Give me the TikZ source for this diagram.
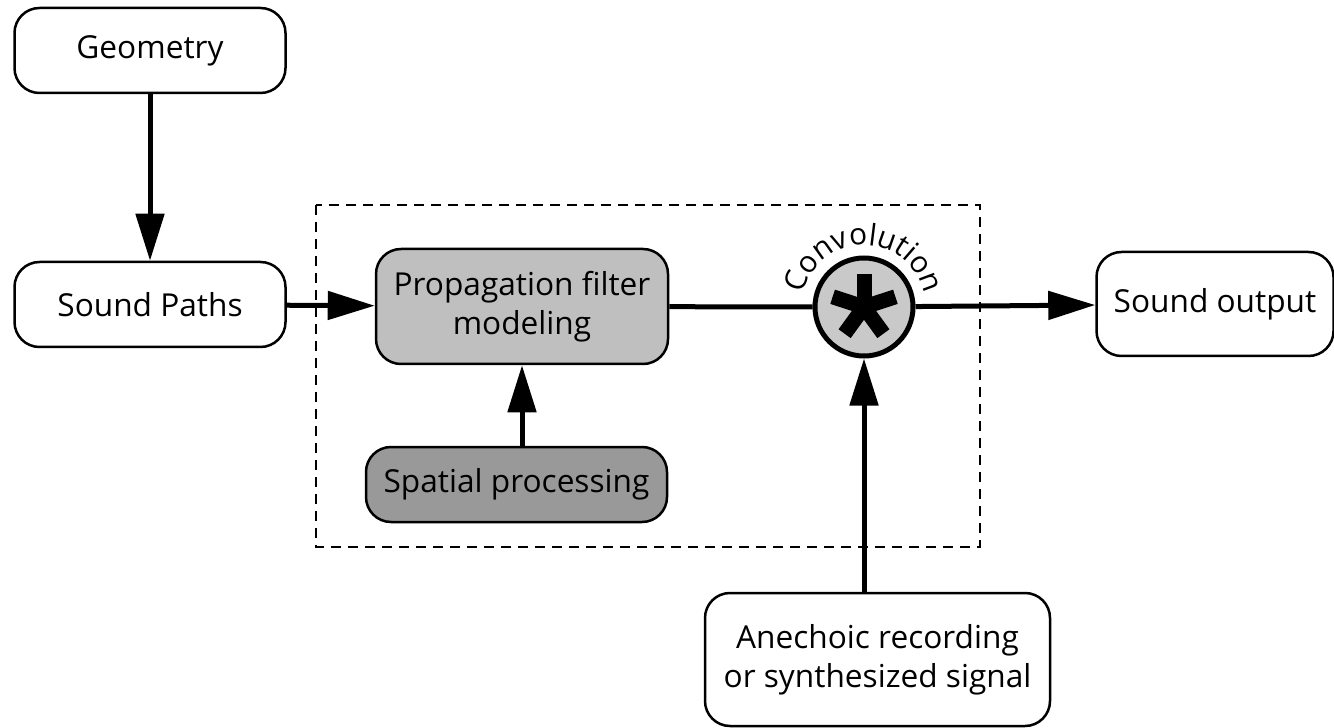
\documentclass[tikz,border=0pt]{standalone}
\usepackage{fontspec}
\setmainfont{Open Sans}
\usepackage{tikz}
\usetikzlibrary{arrows.meta, positioning, calc, decorations.text}
\tikzset{
  flowbox/.style={
    draw, rounded corners=0.5cm, line width=0.05cm, align=center,
    font=\fontsize{18}{22}\selectfont, fill=white,
    minimum width=5.42cm, minimum height=1.7cm, inner sep=0pt
  },
  flowarrow/.style={
    -{Triangle[length=0.94cm, width=0.56cm]}, line width=0.1cm
  },
  flowline/.style={line width=0.1cm},
  groupframe/.style={
    draw, line width=0.04cm, dash pattern=on 0.2cm off 0.14cm
  },
}

\begin{document}
\begin{tikzpicture}
  \useasboundingbox (0,0) rectangle (26.68,-14.56);

  % Group frame
  \draw[groupframe] (6.32,-4.10) rectangle (19.60,-10.94);

  % Input boxes
  \node[flowbox] (geom) at (3.0,-1.01) {Geometry};
  \node[flowbox] (paths) at (3.0,-6.09) {Sound Paths};

  % Filter stages
  \node[flowbox, fill=gray!50, minimum width=5.84cm, minimum height=2.3cm]
    (prop) at (10.44,-6.13) {Propagation filter\\modeling};
  \node[flowbox, fill=gray!80, minimum width=6.02cm, minimum height=1.5cm]
    (spatial) at (10.33,-9.69) {Spatial processing};

  % Convolution
  \node[circle, draw, line width=0.1cm, fill=gray!42, minimum size=1.96cm,
    inner sep=0pt] (conv) at (17.28,-6.14) {};
  \foreach \a in {90,162,18,234,306}
    \draw[line width=0.3cm] (conv.center) -- ++(\a:0.66);
  \path[decorate, decoration={text along path, text align=center,
    text={|\fontsize{17}{20}\selectfont|Convolution}}]
    (conv.center) ++(178:1.24) arc (178:2:1.24);

  % Output and signal
  \node[flowbox, minimum width=4.74cm, minimum height=2.08cm]
    (out) at (24.30,-6.08) {Sound output};
  \node[flowbox, minimum width=6.9cm, minimum height=2.66cm]
    (anech) at (17.55,-13.19) {Anechoic recording\\or synthesized signal};

  % Connectors
  \draw[flowarrow] (geom) -- (paths);
  \draw[flowarrow] (paths) -- (prop);
  \draw[flowarrow] (prop.south |- spatial.north) -- (prop.south);
  \draw[flowline] (prop) -- (conv);
  \draw[flowarrow] (conv) -- (out);
  \draw[flowarrow] (anech.north -| conv.south) -- (conv.south);
\end{tikzpicture}
\end{document}
